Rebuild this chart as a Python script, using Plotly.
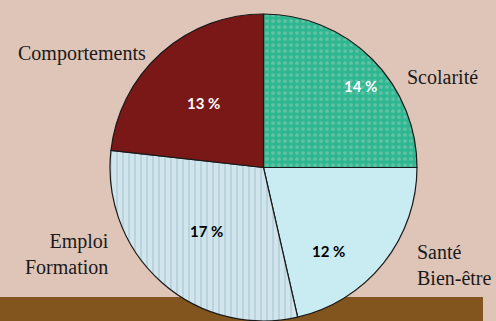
import plotly.graph_objects as go

# slice data, clockwise from 12 o'clock
labels = ['Scolarité', 'Santé<br>Bien-être', 'Emploi<br>Formation', 'Comportements']
values = [14, 12, 17, 13]
pct_text = ['14 %', '12 %', '17 %', '13 %']

colors = ['#2db892', '#c9ecf3', '#d0e5ec', '#7a1717']
pattern_shapes = ['.', '', '|', '']
pattern_fg = ['#8cc4b0', '#c9ecf3', '#a7c3ce', '#7a1717']
text_colors = ['white', 'black', 'black', 'white']

fig = go.Figure()

fig.add_trace(go.Pie(
    labels=labels, values=values,
    sort=False, direction='clockwise', rotation=0,
    textinfo='none',
    marker=dict(colors=colors, line=dict(color='#1a1a1a', width=1.2),
                pattern=dict(shape=pattern_shapes, fgcolor=pattern_fg, bgcolor=colors,
                             fgopacity=0.6, size=6, solidity=0.3)),
    domain=dict(x=[0.2218, 0.8407], y=[0.0, 0.9564]),
    showlegend=False, hoverinfo='label+percent',
))

# percentage labels inside the slices
pct_pos = [(360, 86), (328, 251), (206, 231), (203, 103)]
for t, c, (px, py) in zip(pct_text, text_colors, pct_pos):
    fig.add_annotation(x=px / 496, y=1 - py / 321, xref='paper', yref='paper',
                       text='<b>%s</b>' % t, showarrow=False, xanchor='center', yanchor='middle',
                       font=dict(family='Lato', size=15, color=c))

# outer labels
label_pos = [
    dict(x=406, y=77, xanchor='left'),
    dict(x=416, y=265, xanchor='left'),
    dict(x=110, y=254, xanchor='right'),
    dict(x=147, y=53, xanchor='right'),
]
for lab, p in zip(labels, label_pos):
    fig.add_annotation(x=p['x'] / 496, y=1 - p['y'] / 321, xref='paper', yref='paper',
                       text=lab, showarrow=False, xanchor=p['xanchor'], yanchor='middle',
                       align=p['xanchor'], borderpad=0,
                       font=dict(family='Liberation Serif, DejaVu Serif, serif', size=20,
                                 color='#1a1a1a'))

# brown ground band
fig.add_shape(type='rect', xref='paper', yref='paper', x0=0, x1=483 / 496,
              y0=0, y1=1 - 297 / 321, fillcolor='#82551f', line=dict(width=0), layer='below')

fig.update_layout(
    width=496, height=321,
    margin=dict(l=0, r=0, t=0, b=0),
    paper_bgcolor='#dfc4b8', plot_bgcolor='#dfc4b8',
)

fig.write_html("out.html", config={'displayModeBar': False},
               post_script="document.body.style.margin='0';")
